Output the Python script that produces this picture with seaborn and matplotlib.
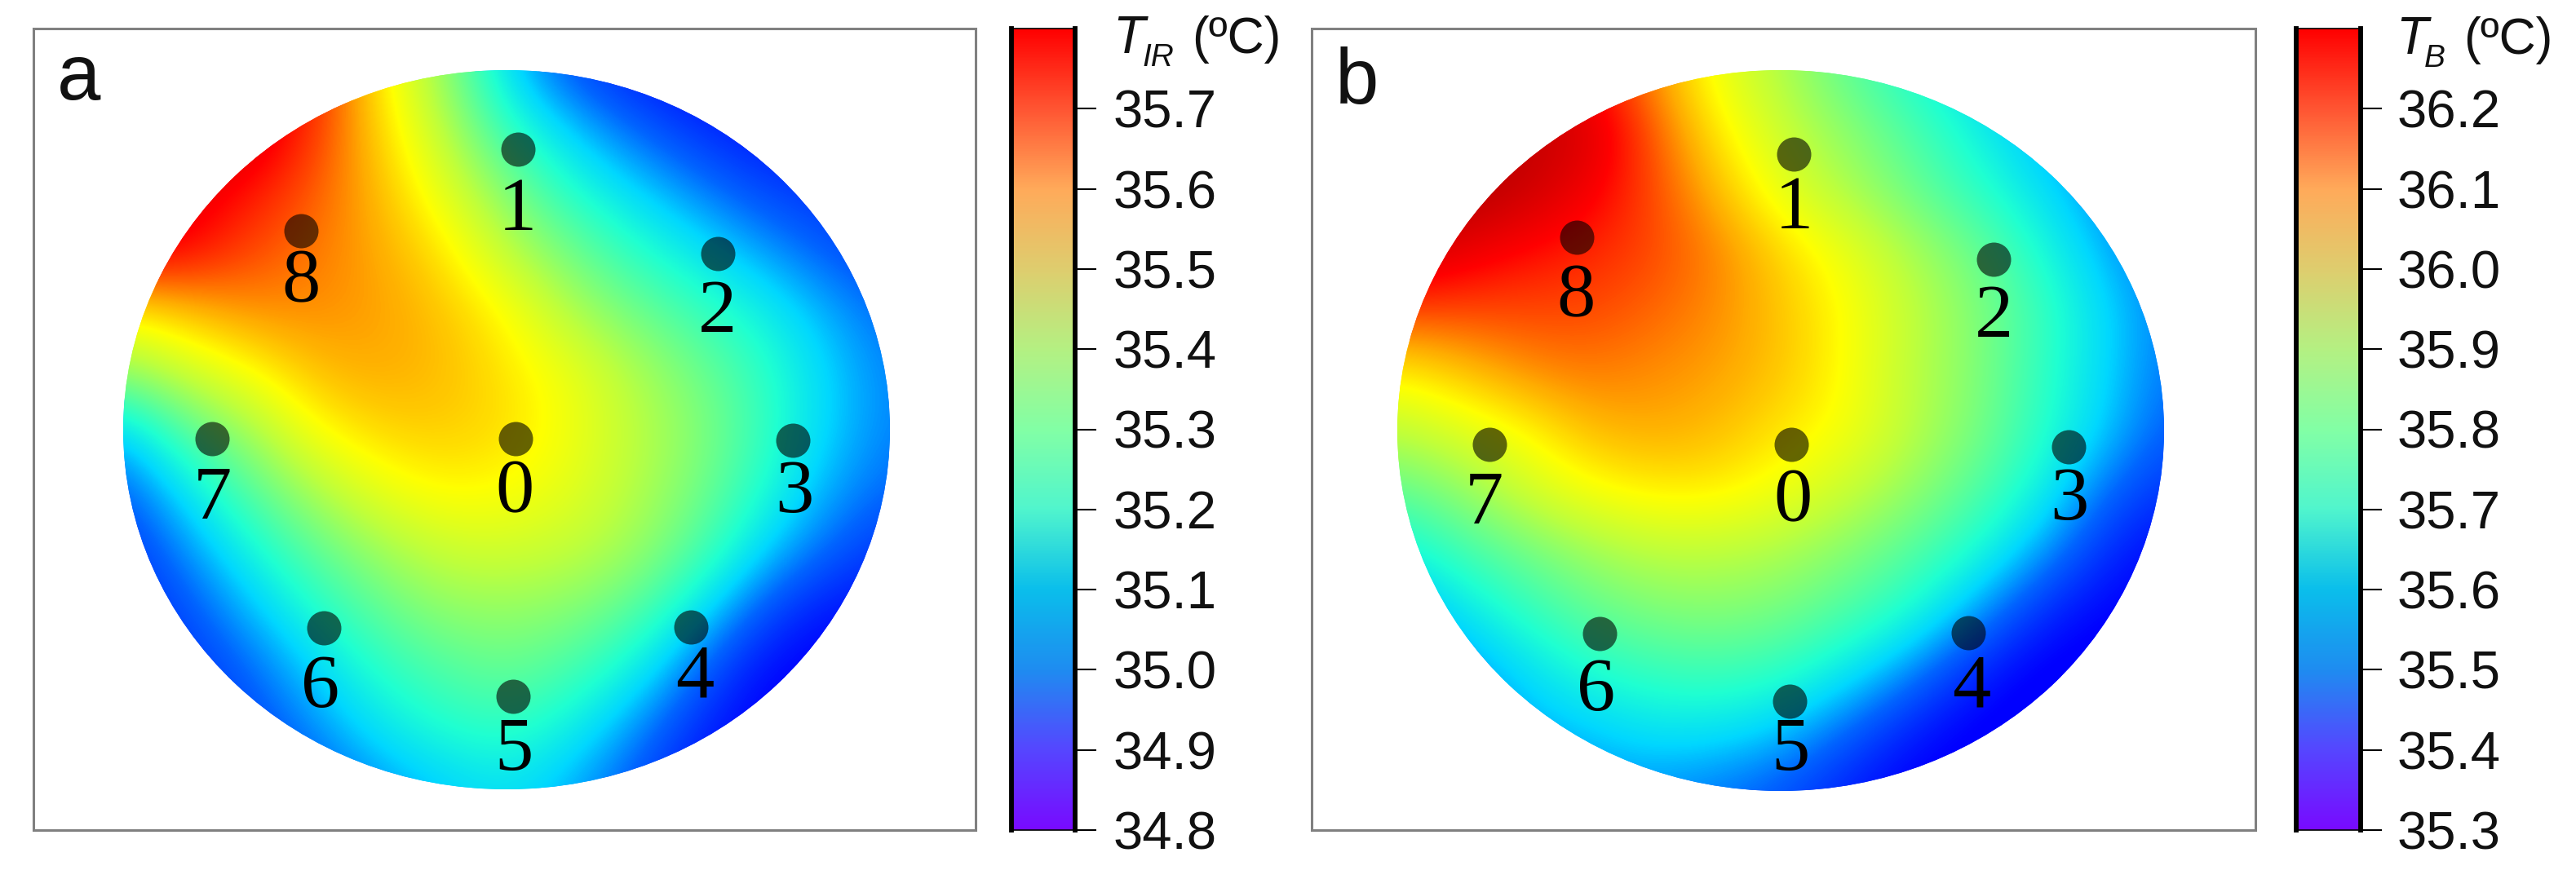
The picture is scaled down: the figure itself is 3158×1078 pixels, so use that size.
import numpy as np
import matplotlib
matplotlib.use("Agg")
import matplotlib.pyplot as plt
import seaborn as sns
from matplotlib.colors import LinearSegmentedColormap, Normalize
from matplotlib.cm import ScalarMappable
from matplotlib.patches import Ellipse, Rectangle

# ---------- data (deg C, rows top to bottom, columns left to right) ----------
field_a = [
    [35.95, 35.90, 35.85, 35.75, 35.52, 35.35, 35.13, 35.03, 34.98, 34.95, 34.95, 34.95, 34.95],
    [35.95, 35.90, 35.85, 35.72, 35.55, 35.40, 35.22, 35.12, 35.05, 35.00, 34.97, 34.96, 34.96],
    [35.90, 35.82, 35.76, 35.68, 35.58, 35.46, 35.32, 35.20, 35.13, 35.07, 35.02, 35.00, 34.98],
    [35.82, 35.78, 35.70, 35.65, 35.60, 35.53, 35.40, 35.30, 35.21, 35.15, 35.09, 35.04, 35.01],
    [35.52, 35.58, 35.63, 35.63, 35.61, 35.57, 35.50, 35.38, 35.30, 35.23, 35.17, 35.10, 35.05],
    [35.35, 35.43, 35.50, 35.58, 35.60, 35.58, 35.53, 35.47, 35.38, 35.30, 35.22, 35.13, 35.07],
    [35.12, 35.27, 35.37, 35.50, 35.55, 35.56, 35.54, 35.48, 35.40, 35.33, 35.23, 35.13, 35.07],
    [35.04, 35.15, 35.27, 35.38, 35.47, 35.51, 35.50, 35.46, 35.39, 35.31, 35.20, 35.10, 35.05],
    [35.00, 35.08, 35.18, 35.28, 35.36, 35.42, 35.43, 35.41, 35.36, 35.26, 35.13, 35.05, 35.00],
    [34.98, 35.03, 35.11, 35.20, 35.28, 35.34, 35.35, 35.33, 35.27, 35.15, 35.03, 34.97, 34.96],
    [34.97, 35.00, 35.05, 35.13, 35.21, 35.26, 35.29, 35.25, 35.17, 35.05, 34.96, 34.94, 34.94],
    [34.96, 34.98, 35.02, 35.08, 35.15, 35.20, 35.22, 35.17, 35.08, 34.99, 34.94, 34.94, 34.94],
    [34.96, 34.97, 34.98, 35.03, 35.08, 35.12, 35.15, 35.10, 35.03, 34.96, 34.94, 34.94, 34.94],
]
field_b = [
    [36.45, 36.40, 36.35, 36.27, 36.12, 35.97, 35.88, 35.78, 35.70, 35.63, 35.58, 35.55, 35.52],
    [36.45, 36.42, 36.38, 36.36, 36.18, 36.02, 35.92, 35.84, 35.76, 35.68, 35.61, 35.56, 35.53],
    [36.42, 36.42, 36.38, 36.30, 36.20, 36.08, 35.96, 35.88, 35.80, 35.72, 35.65, 35.58, 35.54],
    [36.38, 36.32, 36.27, 36.24, 36.20, 36.14, 36.05, 35.97, 35.88, 35.80, 35.70, 35.61, 35.55],
    [36.20, 36.20, 36.20, 36.20, 36.17, 36.13, 36.07, 36.00, 35.91, 35.83, 35.74, 35.64, 35.57],
    [36.02, 36.07, 36.13, 36.15, 36.13, 36.11, 36.07, 36.00, 35.90, 35.83, 35.73, 35.64, 35.56],
    [35.90, 35.95, 36.00, 36.08, 36.10, 36.08, 36.03, 35.99, 35.90, 35.82, 35.72, 35.63, 35.54],
    [35.78, 35.84, 35.93, 35.99, 36.02, 36.02, 35.98, 35.92, 35.85, 35.77, 35.68, 35.56, 35.50],
    [35.67, 35.74, 35.80, 35.86, 35.90, 35.90, 35.88, 35.83, 35.77, 35.70, 35.60, 35.50, 35.45],
    [35.58, 35.65, 35.72, 35.78, 35.82, 35.83, 35.81, 35.76, 35.70, 35.60, 35.50, 35.45, 35.44],
    [35.55, 35.58, 35.64, 35.70, 35.73, 35.74, 35.72, 35.66, 35.58, 35.49, 35.44, 35.43, 35.43],
    [35.52, 35.55, 35.60, 35.62, 35.65, 35.65, 35.62, 35.55, 35.48, 35.44, 35.43, 35.43, 35.43],
    [35.50, 35.52, 35.55, 35.58, 35.58, 35.56, 35.53, 35.48, 35.44, 35.43, 35.43, 35.43, 35.43],
]
point_labels = ["1", "2", "3", "4", "5", "6", "7", "8", "0"]
point_x_a = [0.030, 0.550, 0.746, 0.480, 0.018, -0.477, -0.769, -0.536, 0.024]
point_y_a = [0.780, 0.490, -0.030, -0.548, -0.742, -0.551, -0.024, 0.554, -0.024]
point_x_b = [0.035, 0.555, 0.750, 0.490, 0.024, -0.473, -0.760, -0.532, 0.028]
point_y_b = [0.767, 0.474, -0.046, -0.561, -0.751, -0.564, -0.038, 0.536, -0.038]
label_x_a = [0.028, 0.549, 0.751, 0.490, 0.018, -0.485, -0.767, -0.537, 0.021]
label_y_a = [0.606, 0.322, -0.177, -0.691, -0.894, -0.719, -0.197, 0.408, -0.177]
label_x_b = [0.035, 0.557, 0.752, 0.498, 0.025, -0.481, -0.773, -0.535, 0.032]
label_y_b = [0.611, 0.312, -0.195, -0.716, -0.891, -0.725, -0.206, 0.370, -0.198]
ticks_a = [34.8, 34.9, 35.0, 35.1, 35.2, 35.3, 35.4, 35.5, 35.6, 35.7]
ticks_b = [35.3, 35.4, 35.5, 35.6, 35.7, 35.8, 35.9, 36.0, 36.1, 36.2]
range_a = (34.8, 35.8)
range_b = (35.3, 36.3)

# ---------- colours ----------
bar_colors = [(120, 10, 255), (85, 70, 255), (30, 140, 240), (10, 190, 235), (80, 245, 205),
              (130, 255, 165), (180, 240, 130), (222, 205, 110), (255, 170, 90), (255, 85, 50), (255, 0, 0)]
bar_cmap = LinearSegmentedColormap.from_list("bar", [tuple(c / 255 for c in col) for col in bar_colors], N=512)
# field colours: position along a scale 1.15 times the colour bar range
field_stops = [(0.00, (0, 0, 255)), (0.13, (0, 0, 255)), (0.217, (0, 100, 255)), (0.287, (0, 215, 255)),
               (0.348, (30, 255, 210)), (0.435, (110, 255, 135)), (0.522, (190, 255, 60)), (0.609, (255, 255, 0)),
               (0.696, (255, 170, 0)), (0.783, (255, 70, 0)), (0.852, (255, 0, 0)), (1.00, (160, 0, 0))]
field_cmap = LinearSegmentedColormap.from_list(
    "field", [(p, tuple(c / 255 for c in col)) for p, col in field_stops], N=512)

# ---------- figure ----------
sns.set_theme(style="white")
plt.rcParams["font.family"] = ["Liberation Sans", "DejaVu Sans"]
W, H = 3158, 1078
fig = plt.figure(figsize=(W / 100, H / 100), dpi=100, facecolor="white")


def box(x0, y0, x1, y1):
    return [x0 / W, 1 - y1 / H, (x1 - x0) / W, (y1 - y0) / H]


def put(x, y, s, size, **kw):
    fig.text(x / W, 1 - y / H, s, fontsize=size, color="#111111", ha="left", va="baseline", **kw)


def panel(field, vrange, ticks, px, py, lx, ly, frame, circle, bar, letter, letter_xy, sub, title_x, title_y, pad):
    fx0, fy0, fx1, fy1 = frame
    fig.add_artist(Rectangle((fx0 / W, 1 - fy1 / H), (fx1 - fx0) / W, (fy1 - fy0) / H,
                             transform=fig.transFigure, fill=False, edgecolor="#808080", linewidth=2.2))
    cx, cy, rx, ry = circle
    n = len(field)
    ext = n / (n - 1)
    ax = fig.add_axes(box(cx - rx * ext, cy - ry * ext, cx + rx * ext, cy + ry * ext))
    arr = np.array(field)
    vmin = vrange[0]
    vmax = vrange[0] + (vrange[1] - vrange[0]) * 1.15
    sns.heatmap(arr, ax=ax, cmap=field_cmap, vmin=vmin, vmax=vmax, cbar=False,
                xticklabels=False, yticklabels=False)
    ax.patch.set_alpha(0)
    mid = n / 2
    rad = (n - 1) / 2
    clip = Ellipse((mid, mid), 2 * rad, 2 * rad, transform=ax.transData, facecolor="none", edgecolor="none")
    ax.add_patch(clip)
    ax.collections[0].set_clip_path(clip)
    im = ax.imshow(arr, extent=(0, n, n, 0), cmap=field_cmap, vmin=vmin, vmax=vmax,
                   interpolation="bicubic", aspect="auto", zorder=2)
    im.set_clip_path(clip)
    ax.set_xlim(0, n)
    ax.set_ylim(n, 0)
    ax.set_axis_off()
    ax.scatter(mid + np.array(px) * rad, mid - np.array(py) * rad, s=(42 * 0.72) ** 2,
               color="black", alpha=0.6, linewidths=0, zorder=3)
    for s, x, y in zip(point_labels, lx, ly):
        ax.text(mid + x * rad, mid - y * rad, s, family="Liberation Serif", fontsize=68,
                color="black", ha="center", va="center", zorder=4)
    put(letter_xy[0], letter_xy[1], letter, 69)

    cax = fig.add_axes(box(*bar))
    sm = ScalarMappable(norm=Normalize(*vrange), cmap=bar_cmap)
    cb = fig.colorbar(sm, cax=cax)
    cb.outline.set_visible(False)
    cb.set_ticks(ticks)
    cb.set_ticklabels([f"{t:.1f}" for t in ticks])
    cax.tick_params(axis="y", length=18.7, width=1.5, color="black", labelsize=47, pad=pad,
                    right=True, left=False, labelcolor="#111111")
    for side, lw in (("left", 4.2), ("right", 4.2), ("top", 1.2), ("bottom", 1.2)):
        cax.spines[side].set_visible(True)
        cax.spines[side].set_color("black")
        cax.spines[side].set_linewidth(lw)
    put(title_x[0], title_y, "T", 46, style="italic")
    put(title_x[1], title_y + 16, sub, 28, style="italic")
    put(title_x[2], title_y, "(ºC)", 45)


panel(field_a, range_a, ticks_a, point_x_a, point_y_a, label_x_a, label_y_a,
      frame=(41, 35, 1196, 1018), circle=(621, 527, 470, 441), bar=(1240, 35, 1318, 1018),
      letter="a", letter_xy=(70, 122), sub="IR", title_x=(1364, 1400, 1461), title_y=65, pad=15)
panel(field_b, range_b, ticks_b, point_x_b, point_y_b, label_x_b, label_y_b,
      frame=(1608, 35, 2765, 1018), circle=(2183, 528, 470, 442), bar=(2815, 35, 2894, 1018),
      letter="b", letter_xy=(1637, 127), sub="B", title_x=(2937, 2972, 3020), title_y=66, pad=13)

fig.savefig("out.png", dpi=100, facecolor="white")
